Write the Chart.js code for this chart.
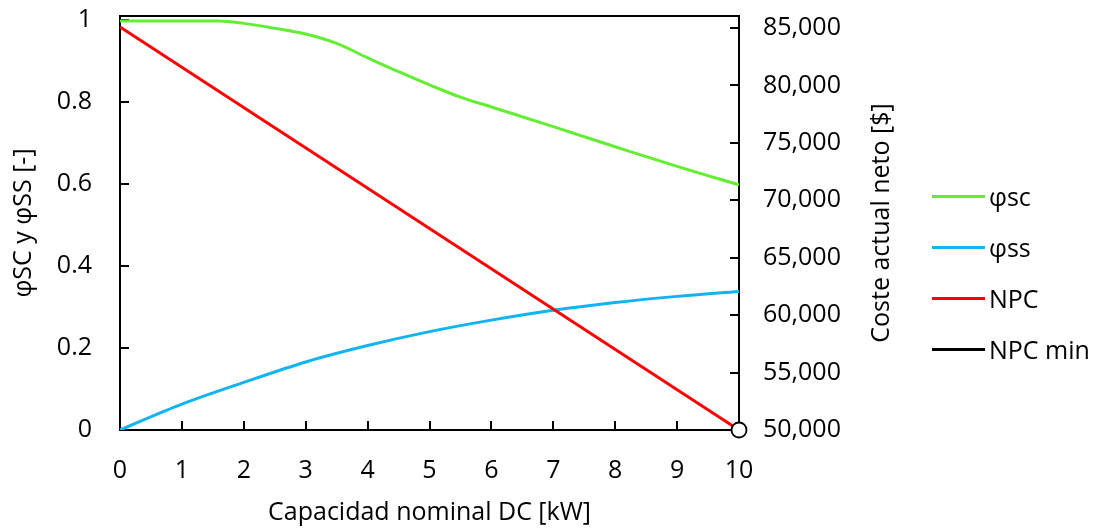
<!DOCTYPE html>
<html>
<head>
<meta charset="utf-8">
<script src="https://cdn.jsdelivr.net/npm/chart.js@4.4.1/dist/chart.umd.min.js"></script>
<style>
  html, body { margin: 0; padding: 0; background: #fff; }
  #wrap { width: 1097px; height: 529px; }
</style>
</head>
<body>
<div id="wrap"><canvas id="chart"></canvas></div>
<script>
// --- Data ---
const scX = [0, 1, 1.6, 2, 2.5, 3, 3.5, 4, 4.5, 5, 5.5, 6, 7, 8, 9, 10];
const scVals = [0.998, 0.998, 0.998, 0.992, 0.980, 0.966, 0.943, 0.908, 0.874, 0.842, 0.812, 0.788, 0.740, 0.691, 0.643, 0.598];

const ssX = [0, 1, 2, 3, 4, 5, 6, 7, 8, 9, 10];
const ssVals = [0, 0.063, 0.116, 0.166, 0.206, 0.240, 0.268, 0.292, 0.311, 0.326, 0.338];

const npcX = [0, 10];
const npcVals = [85100, 50000];

const npcMinX = [10];
const npcMinVals = [50000];

const xTicks = [0, 1, 2, 3, 4, 5, 6, 7, 8, 9, 10];
const leftTicks = [0, 0.2, 0.4, 0.6, 0.8, 1];
const rightTicks = [50000, 55000, 60000, 65000, 70000, 75000, 80000, 85000];

const FONT = "'Open Sans', sans-serif";
const RIGHT_TITLE = 'Coste actual neto [$]';

// --- Helpers ---
const toPoints = (xs, ys) => xs.map((x, i) => ({ x: x, y: ys[i] }));
const fixTicks = list => scale => { scale.ticks = list.map(v => ({ value: v })); };
// fixed box size, no extra label padding added to the chart area
const fitV = w => s => { s.width = w; s.paddingTop = 0; s.paddingBottom = 0; };

// inward tick marks, top frame line, right title (reads bottom to top), legend
const frame = {
    id: 'frame',
    beforeDatasetsDraw(chart) {
        const { ctx, chartArea: a, scales } = chart;
        const len = 9;
        ctx.save();
        ctx.strokeStyle = '#000';
        ctx.lineWidth = 2;
        ctx.beginPath();
        ctx.moveTo(a.left - 1, a.top);
        ctx.lineTo(a.right + 1, a.top);
        scales.x.ticks.forEach(t => {
            const px = Math.round(scales.x.getPixelForValue(t.value));
            ctx.moveTo(px, a.bottom);
            ctx.lineTo(px, a.bottom - len);
        });
        scales.y.ticks.forEach(t => {
            const py = Math.round(scales.y.getPixelForValue(t.value));
            ctx.moveTo(a.left, py);
            ctx.lineTo(a.left + len, py);
        });
        scales.y2.ticks.forEach(t => {
            const py = Math.round(scales.y2.getPixelForValue(t.value));
            ctx.moveTo(a.right, py);
            ctx.lineTo(a.right - len, py);
        });
        ctx.stroke();
        ctx.restore();
    },
    afterDraw(chart) {
        const { ctx, chartArea: a } = chart;
        ctx.save();
        ctx.font = "25px 'Open Sans', sans-serif";
        ctx.fillStyle = '#000';

        // right axis title
        ctx.save();
        ctx.translate(889, (a.top + a.bottom) / 2);
        ctx.rotate(-Math.PI / 2);
        ctx.textAlign = 'center';
        ctx.textBaseline = 'alphabetic';
        ctx.fillText(RIGHT_TITLE, 0, 0);
        ctx.restore();

        // legend, one row per dataset
        ctx.textAlign = 'left';
        ctx.textBaseline = 'alphabetic';
        chart.data.datasets.forEach((ds, i) => {
            const y = 196.5 + i * 51;
            ctx.strokeStyle = ds.borderColor;
            ctx.lineWidth = 3;
            ctx.beginPath();
            ctx.moveTo(932, y);
            ctx.lineTo(985, y);
            ctx.stroke();
            ctx.fillStyle = '#000';
            ctx.fillText(ds.label, 989, y + 9.5);
        });
        ctx.restore();
    }
};

const axisBase = {
    type: 'linear',
    border: { display: true, color: '#000', width: 2 },
    grid: { display: true, drawOnChartArea: false, drawTicks: false, lineWidth: 0 },
};

new Chart(document.getElementById('chart'), {
    type: 'line',
    data: {
        datasets: [
            {
                label: 'φsc',
                data: toPoints(scX, scVals),
                yAxisID: 'y',
                borderColor: '#63ee33',
                borderWidth: 3,
                pointRadius: 0,
                cubicInterpolationMode: 'monotone',
                order: 3
            },
            {
                label: 'φss',
                data: toPoints(ssX, ssVals),
                yAxisID: 'y',
                borderColor: '#10b4f0',
                borderWidth: 3,
                pointRadius: 0,
                cubicInterpolationMode: 'monotone',
                order: 2
            },
            {
                label: 'NPC',
                data: toPoints(npcX, npcVals),
                yAxisID: 'y2',
                borderColor: '#ff0000',
                borderWidth: 3,
                pointRadius: 0,
                order: 1
            },
            {
                label: 'NPC min',
                data: toPoints(npcMinX, npcMinVals),
                yAxisID: 'y2',
                borderColor: '#000',
                borderWidth: 3,
                pointRadius: 7.5,
                pointBorderWidth: 1.8,
                pointBackgroundColor: '#fff',
                pointBorderColor: '#000',
                clip: false,
                order: 0
            }
        ]
    },
    options: {
        responsive: true,
        maintainAspectRatio: false,
        animation: false,
        layout: { padding: { top: 16, right: 195, bottom: 0, left: 0 } },
        plugins: {
            tooltip: { enabled: false },
            legend: { display: false }
        },
        scales: {
            x: {
                ...axisBase,
                position: 'bottom',
                min: 0,
                max: 10,
                afterBuildTicks: fixTicks(xTicks),
                afterFit: s => { s.height = 99; },
                ticks: { color: '#000', font: { family: FONT, size: 25 }, padding: 26 },
                title: {
                    display: true,
                    text: 'Capacidad nominal DC [kW]',
                    color: '#000',
                    font: { family: FONT, size: 25 },
                    padding: { top: 0, bottom: 1 }
                }
            },
            y: {
                ...axisBase,
                position: 'left',
                min: 0,
                max: 1.01,
                afterBuildTicks: fixTicks(leftTicks),
                afterFit: fitV(120),
                ticks: {
                    color: '#000',
                    font: { family: FONT, size: 25 },
                    padding: 28,
                    callback: v => String(v)
                },
                title: {
                    display: true,
                    text: 'φSC y φSS [-]',
                    color: '#000',
                    font: { family: FONT, size: 25 },
                    padding: { top: 9, bottom: 0 }
                }
            },
            y2: {
                ...axisBase,
                position: 'right',
                min: 50000,
                max: 86050,
                afterBuildTicks: fixTicks(rightTicks),
                afterFit: fitV(163),
                ticks: {
                    color: '#000',
                    font: { family: FONT, size: 25 },
                    padding: 24,
                    callback: v => v.toLocaleString('en-US')
                },
                title: { display: false }
            }
        }
    },
    plugins: [frame]
});
</script>
</body>
</html>
